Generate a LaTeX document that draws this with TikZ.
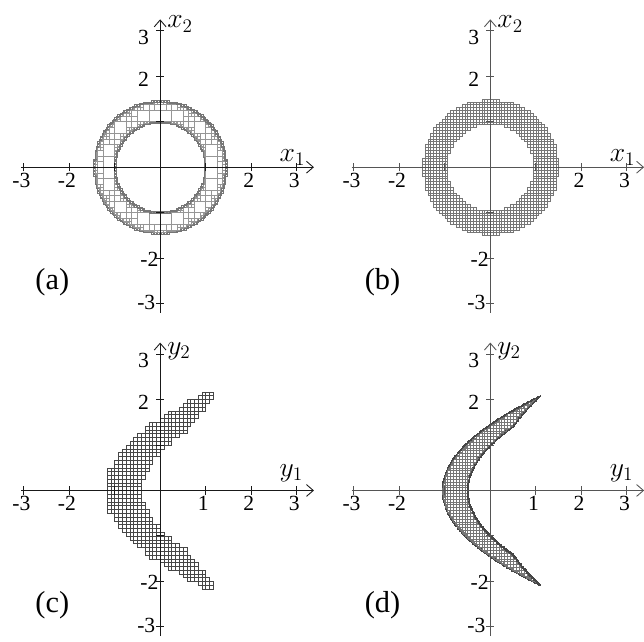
\documentclass[tikz,border=0pt]{standalone}
\usepackage{fontspec}
\setmainfont{Liberation Serif}
\usetikzlibrary{arrows.meta}
\definecolor{AxisInk}{RGB}{25,25,25}
\definecolor{AxisGrey}{RGB}{85,85,85}
\definecolor{BoxLight}{RGB}{150,150,150}
\definecolor{BoxMid}{RGB}{118,118,118}
\definecolor{BoxDark}{RGB}{70,70,70}
\tikzset{
  axisline/.style={line width=.55pt},
  axisarrow/.style={axisline,-{Straight Barb[length=1.5mm,width=2.6mm]}},
  tickmark/.style={line width=.6pt},
  ticklabel/.style={font=\fontsize{13.5}{15}\selectfont,inner sep=0pt,anchor=base},
  vticklabel/.style={ticklabel,anchor=base east},
  axislabel/.style={font=\fontsize{17.28}{20}\selectfont,inner sep=0pt,anchor=base west},
  panellabel/.style={font=\fontsize{19}{22}\selectfont,inner sep=0pt},
  ringbig/.style={draw=BoxLight,line width=.3pt},
  ringfine/.style={draw=BoxMid,line width=.2pt},
  gridcell/.style={draw=BoxMid,line width=.25pt},
  imagecell/.style={draw=BoxDark,line width=.25pt},
  bandbig/.style={draw=BoxMid,line width=.25pt},
  bandfine/.style={draw=BoxDark,line width=.35pt}
}
\def\ringOut{2.1}
% box [#1,#2]x[#3,#4] against the ring 1<=x1^2+x2^2<=\ringOut
\newcommand\ringStat[4]{%
  \pgfmathsetmacro\qmin{ifthenelse(and(#1<0,#2>0),0,min((#1)*(#1),(#2)*(#2)))+ifthenelse(and(#3<0,#4>0),0,min((#3)*(#3),(#4)*(#4)))}%
  \pgfmathsetmacro\qmax{max((#1)*(#1),(#2)*(#2))+max((#3)*(#3),(#4)*(#4))}%
  \pgfmathtruncatemacro\cst{ifthenelse(or(\qmax<1,\qmin>\ringOut),0,ifthenelse(and(\qmin>=1,\qmax<=\ringOut),1,2))}}
% box [#1,#2]x[#3,#4] against the image set y1=x1x2, y2=x1+x2
\newcommand\bandStat[4]{%
  \pgfmathsetmacro\smin{ifthenelse(and(#3<0,#4>0),0,min((#3)*(#3),(#4)*(#4)))}%
  \pgfmathsetmacro\smax{max((#3)*(#3),(#4)*(#4))}%
  \pgfmathsetmacro\gmin{\smin-2*(#2)}\pgfmathsetmacro\gmax{\smax-2*(#1)}%
  \pgfmathsetmacro\hmin{\smin/4-(#2)}\pgfmathsetmacro\hmax{\smax/4-(#1)}%
  \pgfmathtruncatemacro\cst{ifthenelse(or(or(\gmax<1,\gmin>\ringOut),\hmax<0),0,ifthenelse(and(and(\gmin>=1,\gmax<=\ringOut),\hmin>=0),1,2))}}
% bisect: inside boxes down to \bigLimit, boundary boxes down to \fineLimit
\newcommand\pave[6]{%
  \begingroup
  \pgfmathsetmacro\xb{#4+#6}\pgfmathsetmacro\yb{#5+#6}%
  #1{#4}{\xb}{#5}{\yb}%
  \ifnum\cst=1 \ifdim#6pt>\bigLimit pt \def\cst{3}\else\draw[#2] (#4,#5) rectangle (\xb,\yb);\fi\fi
  \ifnum\cst=2 \ifdim#6pt>\fineLimit pt \def\cst{3}\else\draw[#3] (#4,#5) rectangle (\xb,\yb);\fi\fi
  \ifnum\cst=3
    \pgfmathsetmacro\hs{#6/2}\pgfmathsetmacro\xm{#4+\hs}\pgfmathsetmacro\ym{#5+\hs}%
    \edef\splitcell{\noexpand\pave\noexpand#1{#2}{#3}{#4}{#5}{\hs}\noexpand\pave\noexpand#1{#2}{#3}{\xm}{#5}{\hs}%
      \noexpand\pave\noexpand#1{#2}{#3}{#4}{\ym}{\hs}\noexpand\pave\noexpand#1{#2}{#3}{\xm}{\ym}{\hs}}%
    \splitcell
  \fi
  \endgroup}
\newcommand\panelAxes[6]{% colour, variable, panel, x tick labels, baselines of the axis names
  \begin{scope}[draw=#1]
    \draw[axisarrow] (-3.05,0) -- (3.38,0);
    \draw[axisarrow] (0,-3.2) -- (0,3.25);
    \foreach \tk in {-3,-2,-1,1,2,3}
      \draw[tickmark] (\tk,-.09) -- (\tk,.09) (-.09,\tk) -- (.09,\tk);
    \draw[tickmark] (-.09,0) -- (.09,0) (0,-.09) -- (0,.09);
  \end{scope}
  \foreach \tk in {#4}
    \node[ticklabel] (h\tk-#3) at (\tk-.05,-.45) {\tk};
  \node[vticklabel] (v3-#3) at (-.24,2.70) {3};
  \node[vticklabel] (v2-#3) at (-.24,1.77) {2};
  \node[vticklabel] (vm2-#3) at (-.03,-2.18) {-2};
  \node[vticklabel] (vm3-#3) at (-.1,-3.13) {-3};
  \node[axislabel] (name1-#3) at (2.62,#5) {$#2_1$};
  \node[axislabel] (name2-#3) at (.15,#6) {$#2_2$};
  \node[panellabel] (tag-#3) at (-2.37,-2.52) {(#3)};
}

\begin{document}
\begin{tikzpicture}
  \useasboundingbox (0,0) rectangle (14.154,14.11);
  % (a) bisected paving of the ring
  \def\bigLimit{1}\def\fineLimit{.04}
  \begin{scope}[shift={(3.52,10.435)}]
    \foreach \i in {-6,...,5}
      \foreach \j in {-6,...,5}
        {\pgfmathsetmacro\xa{\i/4}\pgfmathsetmacro\ya{\j/4}\pave\ringStat{ringbig}{ringfine}{\xa}{\ya}{.25}}
  \end{scope}
  % (b) regular paving; (c) grid cells hit by the image boxes of its cells
  \foreach \i in {-24,...,23}
    \foreach \j in {-24,...,23}{
      \pgfmathsetmacro\xa{\i/16}\pgfmathsetmacro\xb{(\i+1)/16}%
      \pgfmathsetmacro\ya{\j/16}\pgfmathsetmacro\yb{(\j+1)/16}%
      \ringStat{\xa}{\xb}{\ya}{\yb}%
      \ifnum\cst>0
        \draw[gridcell,shift={(10.776,10.435)}] (\xa,\ya) rectangle (\xb,\yb);
        \pgfmathsetmacro\ua{min(min((\xa)*(\ya),(\xa)*(\yb)),min((\xb)*(\ya),(\xb)*(\yb)))}%
        \pgfmathsetmacro\ub{max(max((\xa)*(\ya),(\xa)*(\yb)),max((\xb)*(\ya),(\xb)*(\yb)))}%
        \pgfmathtruncatemacro\ia{floor(\ua*12)}\pgfmathtruncatemacro\ib{ceil(\ub*12)-1}%
        \pgfmathtruncatemacro\ja{floor((\xa+\ya)*12)}\pgfmathtruncatemacro\jb{ceil((\xb+\yb)*12)-1}%
        \foreach \p in {\ia,...,\ib}
          \foreach \q in {\ja,...,\jb}{%
            \ifcsname yc:\p:\q\endcsname\else
              \global\expandafter\def\csname yc:\p:\q\endcsname{}%
              \draw[imagecell,shift={(3.52,3.33)}] (\p/12,\q/12) rectangle ++(1/12,1/12);
            \fi}%
      \fi}
  % (d) bisected paving of the image set
  \def\bigLimit{.07}\def\fineLimit{.02}
  \begin{scope}[shift={(10.776,3.33)}]
    \foreach \i in {-10,...,9}
      \foreach \j in {-19,...,18}
        {\pgfmathsetmacro\xa{\i/8}\pgfmathsetmacro\ya{\j/8}\pave\bandStat{bandbig}{bandfine}{\xa}{\ya}{.125}}
  \end{scope}
  \begin{scope}[shift={(3.52,10.435)}]
    \panelAxes{AxisInk}{x}{a}{-3,-2,2,3}{.13}{3.06}
  \end{scope}
  \begin{scope}[shift={(10.776,10.435)}]
    \panelAxes{AxisGrey}{x}{b}{-3,-2,2,3}{.13}{3.06}
  \end{scope}
  \begin{scope}[shift={(3.52,3.33)}]
    \panelAxes{AxisInk}{y}{c}{-3,-2,1,2,3}{.31}{2.99}
  \end{scope}
  \begin{scope}[shift={(10.776,3.33)}]
    \panelAxes{AxisGrey}{y}{d}{-3,-2,1,2,3}{.31}{2.99}
  \end{scope}
\end{tikzpicture}
\end{document}
